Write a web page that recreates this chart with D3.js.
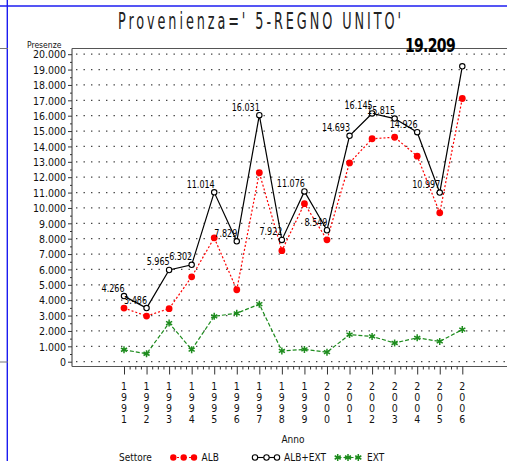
<!DOCTYPE html>
<html>
<head>
<meta charset="utf-8">
<script src="https://cdn.jsdelivr.net/npm/d3@7"></script>
<style>
  body { margin: 0; background: #fff; }
  svg { display: block; }
  text { font-family: "DejaVu Sans Condensed", "DejaVu Sans", sans-serif; }
</style>
</head>
<body>
<div id="chart"></div>
<script>
// data
var years = [1991, 1992, 1993, 1994, 1995, 1996, 1997, 1998, 1999, 2000, 2001, 2002, 2003, 2004, 2005, 2006];
var alb = [3490, 2970, 3450, 5520, 8060, 4680, 12290, 7220, 10280, 7930, 12930, 14500, 14600, 13370, 9680, 17120];
var albExt = [4266, 3486, 5965, 6302, 11014, 7829, 16031, 7922, 11076, 8549, 14693, 16145, 15815, 14926, 10997, 19209];
var ext = [776, 516, 2515, 782, 2954, 3149, 3741, 702, 796, 619, 1763, 1645, 1215, 1556, 1317, 2089];
var yTicks = [0, 1000, 2000, 3000, 4000, 5000, 6000, 7000, 8000, 9000, 10000, 11000, 12000, 13000, 14000, 15000, 16000, 17000, 18000, 19000, 20000];

var W = 507, H = 462;
var plotLeft = 72, plotTop = 48.5, plotBottom = 366.5;
var red = "#ff0000", green = "#1e8c1e", blue = "#1c1cf0";

var svg = d3.select("#chart").append("svg").attr("width", W).attr("height", H);

var x = d3.scaleLinear().domain([1991, 2006]).range([124, 462.3]);
var y = d3.scaleLinear().domain([0, 20000]).range([361.7, 54.2]);

var fmt = function(v) { return d3.format(",")(v).replace(/,/g, "."); };

// page decorations
svg.append("line").attr("x1", 0).attr("x2", W).attr("y1", 6).attr("y2", 6).attr("stroke", blue).attr("stroke-width", 1.6);
svg.append("line").attr("x1", 7.3).attr("x2", 7.3).attr("y1", 0).attr("y2", 461).attr("stroke", blue).attr("stroke-width", 1.4);
svg.append("line").attr("x1", 0).attr("x2", 8).attr("y1", 48.5).attr("y2", 48.5).attr("stroke", "#777");
svg.append("line").attr("x1", 0).attr("x2", 8).attr("y1", 362).attr("y2", 362).attr("stroke", "#777");

// title
svg.append("text")
  .attr("transform", "translate(118,28.5) scale(0.62,1)")
  .attr("font-size", 23).attr("fill", "#222")
  .attr("textLength", 283 / 0.62).attr("lengthAdjust", "spacing")
  .text("Provenienza=' 5-REGNO UNITO'");

// grid dots
svg.append("g").selectAll("line").data(yTicks).join("line")
  .attr("x1", plotLeft + 4).attr("x2", W)
  .attr("y1", function(d) { return y(d); }).attr("y2", function(d) { return y(d); })
  .attr("stroke", "#444").attr("stroke-width", 1.3).attr("stroke-dasharray", "1.4,6.1");

// frame
svg.append("line").attr("x1", plotLeft).attr("x2", W).attr("y1", plotTop).attr("y2", plotTop).attr("stroke", "#555").attr("stroke-width", 1.2);
svg.append("line").attr("x1", plotLeft).attr("x2", plotLeft).attr("y1", plotTop).attr("y2", plotBottom).attr("stroke", "#555").attr("stroke-width", 1.2);
svg.append("line").attr("x1", plotLeft).attr("x2", W).attr("y1", plotBottom).attr("y2", plotBottom).attr("stroke", "#555").attr("stroke-width", 1.2);

// y axis
var yAxis = d3.axisLeft(y).tickValues(yTicks).tickSize(4).tickPadding(2).tickFormat(fmt);
var gy = svg.append("g").attr("transform", "translate(" + plotLeft + ",0)").call(yAxis);
gy.select(".domain").remove();
gy.selectAll("text").attr("font-size", 10.5).attr("fill", "#111").attr("dy", "0.35em");
gy.selectAll("line").attr("stroke", "#333");
var yMinor = d3.axisLeft(y).tickValues(yTicks.slice(1).map(function(d) { return d - 500; })).tickSize(2).tickFormat("");
var gym = svg.append("g").attr("transform", "translate(" + plotLeft + ",0)").call(yMinor);
gym.select(".domain").remove();
gym.selectAll("line").attr("stroke", "#333");

svg.append("text").attr("x", 27).attr("y", 47.5).attr("font-size", 8.5).attr("fill", "#111").text("Presenze");

// x axis
var xAxis = d3.axisBottom(x).tickValues(years).tickSize(8).tickFormat("");
var gx = svg.append("g").attr("transform", "translate(0," + plotBottom + ")").call(xAxis);
gx.select(".domain").remove();
gx.selectAll("line").attr("stroke", "#333");
var minor = [];
years.slice(0, -1).forEach(function(yr) { minor.push(yr + 0.25, yr + 0.5, yr + 0.75); });
var gxm = svg.append("g").attr("transform", "translate(0," + plotBottom + ")")
  .call(d3.axisBottom(x).tickValues(minor).tickSize(3).tickFormat(""));
gxm.select(".domain").remove();
gxm.selectAll("line").attr("stroke", "#333");

// vertical year digits
var yl = svg.append("g").selectAll("text").data(years).join("text")
  .attr("x", function(d) { return x(d); }).attr("y", 389.5)
  .attr("text-anchor", "middle").attr("font-size", 10.5).attr("fill", "#111");
yl.selectAll("tspan").data(function(d) { return String(d).split(""); }).join("tspan")
  .attr("x", function() { return x(d3.select(this.parentNode).datum()); })
  .attr("dy", function(d, i) { return i === 0 ? 0 : 11.1; })
  .text(function(d) { return d; });

svg.append("text").attr("x", 293).attr("y", 443).attr("text-anchor", "middle")
  .attr("font-size", 10).attr("fill", "#111").text("Anno");

// lines
var line = function(vals) {
  return d3.line().x(function(d, i) { return x(years[i]); }).y(function(d) { return y(d); })(vals);
};

svg.append("path").attr("d", line(ext)).attr("fill", "none").attr("stroke", green)
  .attr("stroke-width", 1.2).attr("stroke-dasharray", "4,2");
svg.append("path").attr("d", line(alb)).attr("fill", "none").attr("stroke", red)
  .attr("stroke-width", 1.2).attr("stroke-dasharray", "2,2");
svg.append("path").attr("d", line(albExt)).attr("fill", "none").attr("stroke", "#000").attr("stroke-width", 1.2);

var star = d3.symbol().type(d3.symbolAsterisk).size(34);
svg.append("g").selectAll("path").data(ext).join("path")
  .attr("d", star).attr("transform", function(d, i) { return "translate(" + x(years[i]) + "," + y(d) + ")"; })
  .attr("fill", "none").attr("stroke", green).attr("stroke-width", 1.5);

svg.append("g").selectAll("circle").data(alb).join("circle")
  .attr("cx", function(d, i) { return x(years[i]); }).attr("cy", function(d) { return y(d); })
  .attr("r", 3.4).attr("fill", red);

svg.append("g").selectAll("circle").data(albExt).join("circle")
  .attr("cx", function(d, i) { return x(years[i]); }).attr("cy", function(d) { return y(d); })
  .attr("r", 2.7).attr("fill", "#fff").attr("stroke", "#000").attr("stroke-width", 1.1);

// value labels
svg.append("g").selectAll("text").data(albExt.slice(0, -1)).join("text")
  .attr("transform", function(d, i) { return "translate(" + (x(years[i]) + 0.5) + "," + (y(d) - 4.5) + ") scale(0.85,1)"; })
  .attr("text-anchor", "end").attr("font-family", "Liberation Sans, Arial, sans-serif")
  .attr("font-size", 10.5).attr("fill", "#000")
  .text(function(d) { return fmt(d); });

svg.append("text")
  .attr("transform", "translate(455,51.5) scale(0.82,1)")
  .attr("text-anchor", "end").attr("font-family", "Liberation Sans, Arial, sans-serif")
  .attr("font-weight", "bold").attr("font-size", 19).attr("fill", "#000")
  .attr("letter-spacing", -0.8)
  .text(fmt(albExt[albExt.length - 1]));

// legend
var lg = svg.append("g").attr("font-size", 10).attr("fill", "#111");
lg.append("text").attr("x", 119).attr("y", 461).text("Settore");

var legY = 457.5;
lg.append("line").attr("x1", 173).attr("x2", 194).attr("y1", legY).attr("y2", legY)
  .attr("stroke", red).attr("stroke-width", 1.2).attr("stroke-dasharray", "2,2");
[173.3, 183.7, 194].forEach(function(cx) {
  lg.append("circle").attr("cx", cx).attr("cy", legY).attr("r", 3.2).attr("fill", red);
});
lg.append("text").attr("x", 201.5).attr("y", 461).text("ALB");

lg.append("line").attr("x1", 255).attr("x2", 277).attr("y1", legY).attr("y2", legY)
  .attr("stroke", "#000").attr("stroke-width", 1.1);
[255, 266.5, 277].forEach(function(cx) {
  lg.append("circle").attr("cx", cx).attr("cy", legY).attr("r", 2.7).attr("fill", "#fff").attr("stroke", "#000").attr("stroke-width", 1.1);
});
lg.append("text").attr("x", 284).attr("y", 461).text("ALB+EXT");

lg.append("line").attr("x1", 337.5).attr("x2", 358.5).attr("y1", legY).attr("y2", legY)
  .attr("stroke", green).attr("stroke-width", 1.2).attr("stroke-dasharray", "4,2");
[337.7, 348, 358.3].forEach(function(cx) {
  lg.append("path").attr("d", star).attr("transform", "translate(" + cx + "," + legY + ")")
    .attr("fill", "none").attr("stroke", green).attr("stroke-width", 1.5);
});
lg.append("text").attr("x", 367).attr("y", 461).text("EXT");
</script>
</body>
</html>
